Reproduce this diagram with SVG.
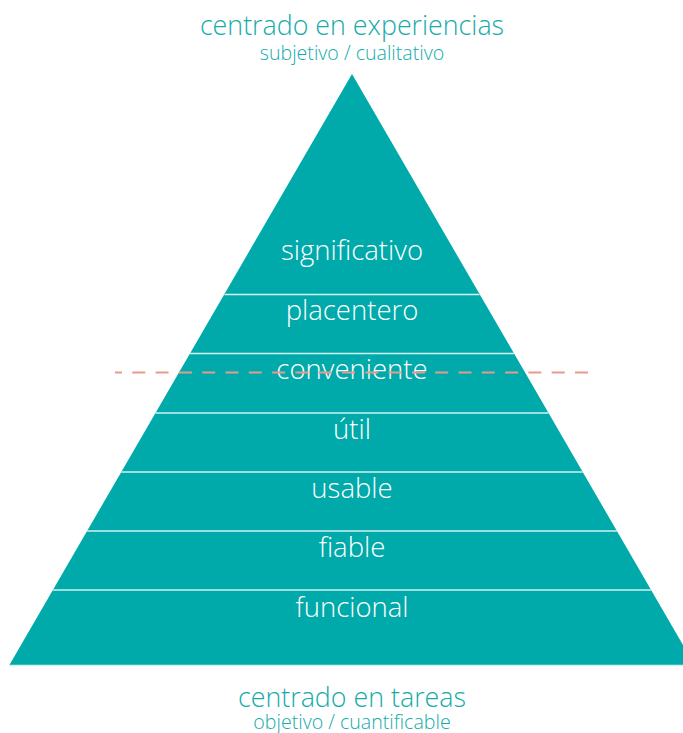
<svg xmlns="http://www.w3.org/2000/svg" width="683" height="733" viewBox="0 0 683 733">
<style>
.title{font-family:"Open Sans","Liberation Sans",sans-serif;font-weight:300;fill:#14ABA9;text-anchor:middle}
.t1{font-size:26.8px}
.t2{font-size:19.6px}
.lbl{font-family:"Open Sans","Liberation Sans",sans-serif;font-weight:300;font-size:27.5px;fill:#FFFFFF;text-anchor:middle}
.div{stroke:#D2F1EF;stroke-width:1.5}
.dash{stroke:#E8998E;stroke-width:2;stroke-dasharray:13 10.3;fill:none}
</style>
<rect width="683" height="733" fill="#FFFFFF"/>
<g id="titles">
<text class="title t1" x="352" y="35">centrado en experiencias</text>
<text class="title t2" x="352" y="59.5">subjetivo / cualitativo</text>
<text class="title t1" x="352" y="707">centrado en tareas</text>
<text class="title t2" x="352" y="729">objetivo / cuantificable</text>
</g>
<g id="pyramid">
<polygon points="352,74 694.6,665 9.4,665" fill="#00AAAA"/>
</g>
<g id="dividers">
<line class="div" x1="224.5" y1="294.5" x2="479.5" y2="294.5"/>
<line class="div" x1="190" y1="353.5" x2="514" y2="353.5"/>
<line class="div" x1="155.5" y1="413" x2="548.5" y2="413"/>
<line class="div" x1="121.3" y1="472" x2="582.7" y2="472"/>
<line class="div" x1="87.1" y1="531" x2="616.9" y2="531"/>
<line class="div" x1="52.9" y1="590" x2="651.1" y2="590"/>
<line class="div" x1="9.4" y1="665.5" x2="694.6" y2="665.5"/>
</g>
<g id="significativo"><text class="lbl" x="352" y="260">significativo</text></g>
<g id="placentero"><text class="lbl" x="352" y="320">placentero</text></g>
<g id="conveniente"><text class="lbl" x="352" y="379">conveniente</text></g>
<g id="util"><text class="lbl" x="352" y="438.5">útil</text></g>
<g id="usable"><text class="lbl" x="352" y="497.5">usable</text></g>
<g id="fiable"><text class="lbl" x="352" y="557">fiable</text></g>
<g id="funcional"><text class="lbl" x="352" y="616.5">funcional</text></g>
<g id="connectors">
<line class="dash" x1="115" y1="372.5" x2="590" y2="372.5" stroke-dashoffset="6"/>
</g>
</svg>
